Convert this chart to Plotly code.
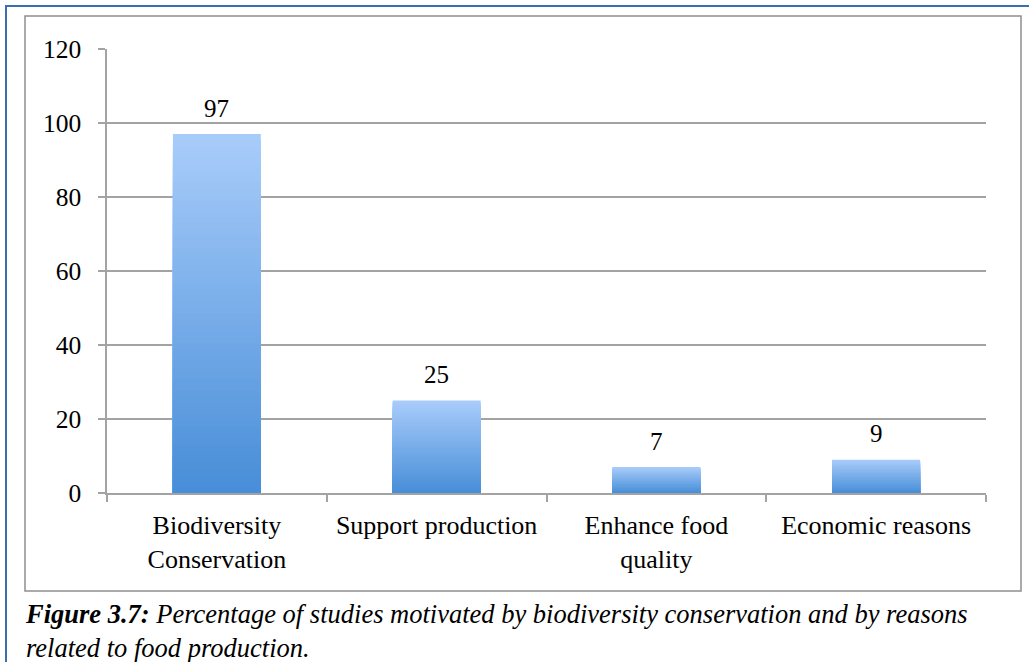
import plotly.graph_objects as go

# Chart data
categories = ["Biodiversity<br>Conservation", "Support production", "Enhance food<br>quality", "Economic reasons"]
values = [97, 25, 7, 9]
y_ticks = [0, 20, 40, 60, 80, 100, 120]

W, H = 1029, 662
L, R, T, B = 107, 43, 49, 169
pw, ph = W - L - R, H - T - B

FONT = "'Times New Roman', 'Liberation Serif', 'DejaVu Serif', serif"
GRID = "#A3A3A3"

top_rgb = (168, 204, 250)
bot_rgb = (72, 142, 216)
N = 60

fig = go.Figure()

# Vertical gradient per bar: overlay progressively shorter, darker bars
for k in range(N):
    frac = (N - k) / N
    t = k / (N - 1)
    c = tuple(round(top_rgb[i] + (bot_rgb[i] - top_rgb[i]) * t) for i in range(3))
    fig.add_trace(go.Bar(
        x=categories,
        y=[v * frac for v in values],
        width=0.4,
        marker=dict(color="rgb(%d,%d,%d)" % c, line=dict(width=0)),
        hoverinfo="skip",
        showlegend=False,
    ))

# Value labels above bars
for cat, v in zip(categories, values):
    fig.add_annotation(
        x=cat, y=v, text=str(v), showarrow=False,
        xref="x", yref="y", yanchor="middle", yshift=26,
        font=dict(family=FONT, size=25, color="black"),
    )

def px_x(p):
    return (p - L) / pw

def px_y(p):
    return (H - B - p) / ph

# Outer blue frame and inner grey frame
fig.add_shape(type="rect", xref="paper", yref="paper",
              x0=px_x(6), x1=px_x(1045), y0=px_y(680), y1=px_y(6),
              line=dict(color="#3C6FAE", width=2), layer="below")
fig.add_shape(type="rect", xref="paper", yref="paper",
              x0=px_x(25), x1=px_x(1021), y0=px_y(591), y1=px_y(16),
              line=dict(color="#8E8E8E", width=1.5), layer="below")

# Caption
fig.add_annotation(
    xref="paper", yref="paper", x=px_x(23), y=px_y(597),
    xanchor="left", yanchor="top", align="left", showarrow=False,
    text="<b><i>Figure 3.7:</i></b><i> Percentage of studies motivated by biodiversity conservation and by reasons<br>related to food production.</i>",
    font=dict(family=FONT, size=26.5, color="black"),
)

fig.update_layout(
    width=W, height=H,
    margin=dict(l=L, r=R, t=T, b=B),
    paper_bgcolor="white", plot_bgcolor="white",
    barmode="overlay", bargap=0.6,
    showlegend=False,
    font=dict(family=FONT, color="black"),
)
fig.update_xaxes(
    type="category", showline=True, linecolor=GRID, linewidth=1.5,
    ticks="outside", tickson="boundaries", ticklen=7, tickcolor=GRID, tickwidth=1.5,
    ticklabelstandoff=8,
    showgrid=False, tickfont=dict(family=FONT, size=26, color="black"),
)
fig.update_yaxes(
    range=[0, 120], tickvals=y_ticks, showline=True, linecolor=GRID, linewidth=1.5,
    ticks="outside", ticklen=7, tickcolor=GRID, tickwidth=1.5,
    showgrid=True, gridcolor=GRID, gridwidth=1.5, zeroline=False,
    ticklabelstandoff=12,
    tickfont=dict(family=FONT, size=25.5, color="black"),
)

fig.write_html("out.html")
